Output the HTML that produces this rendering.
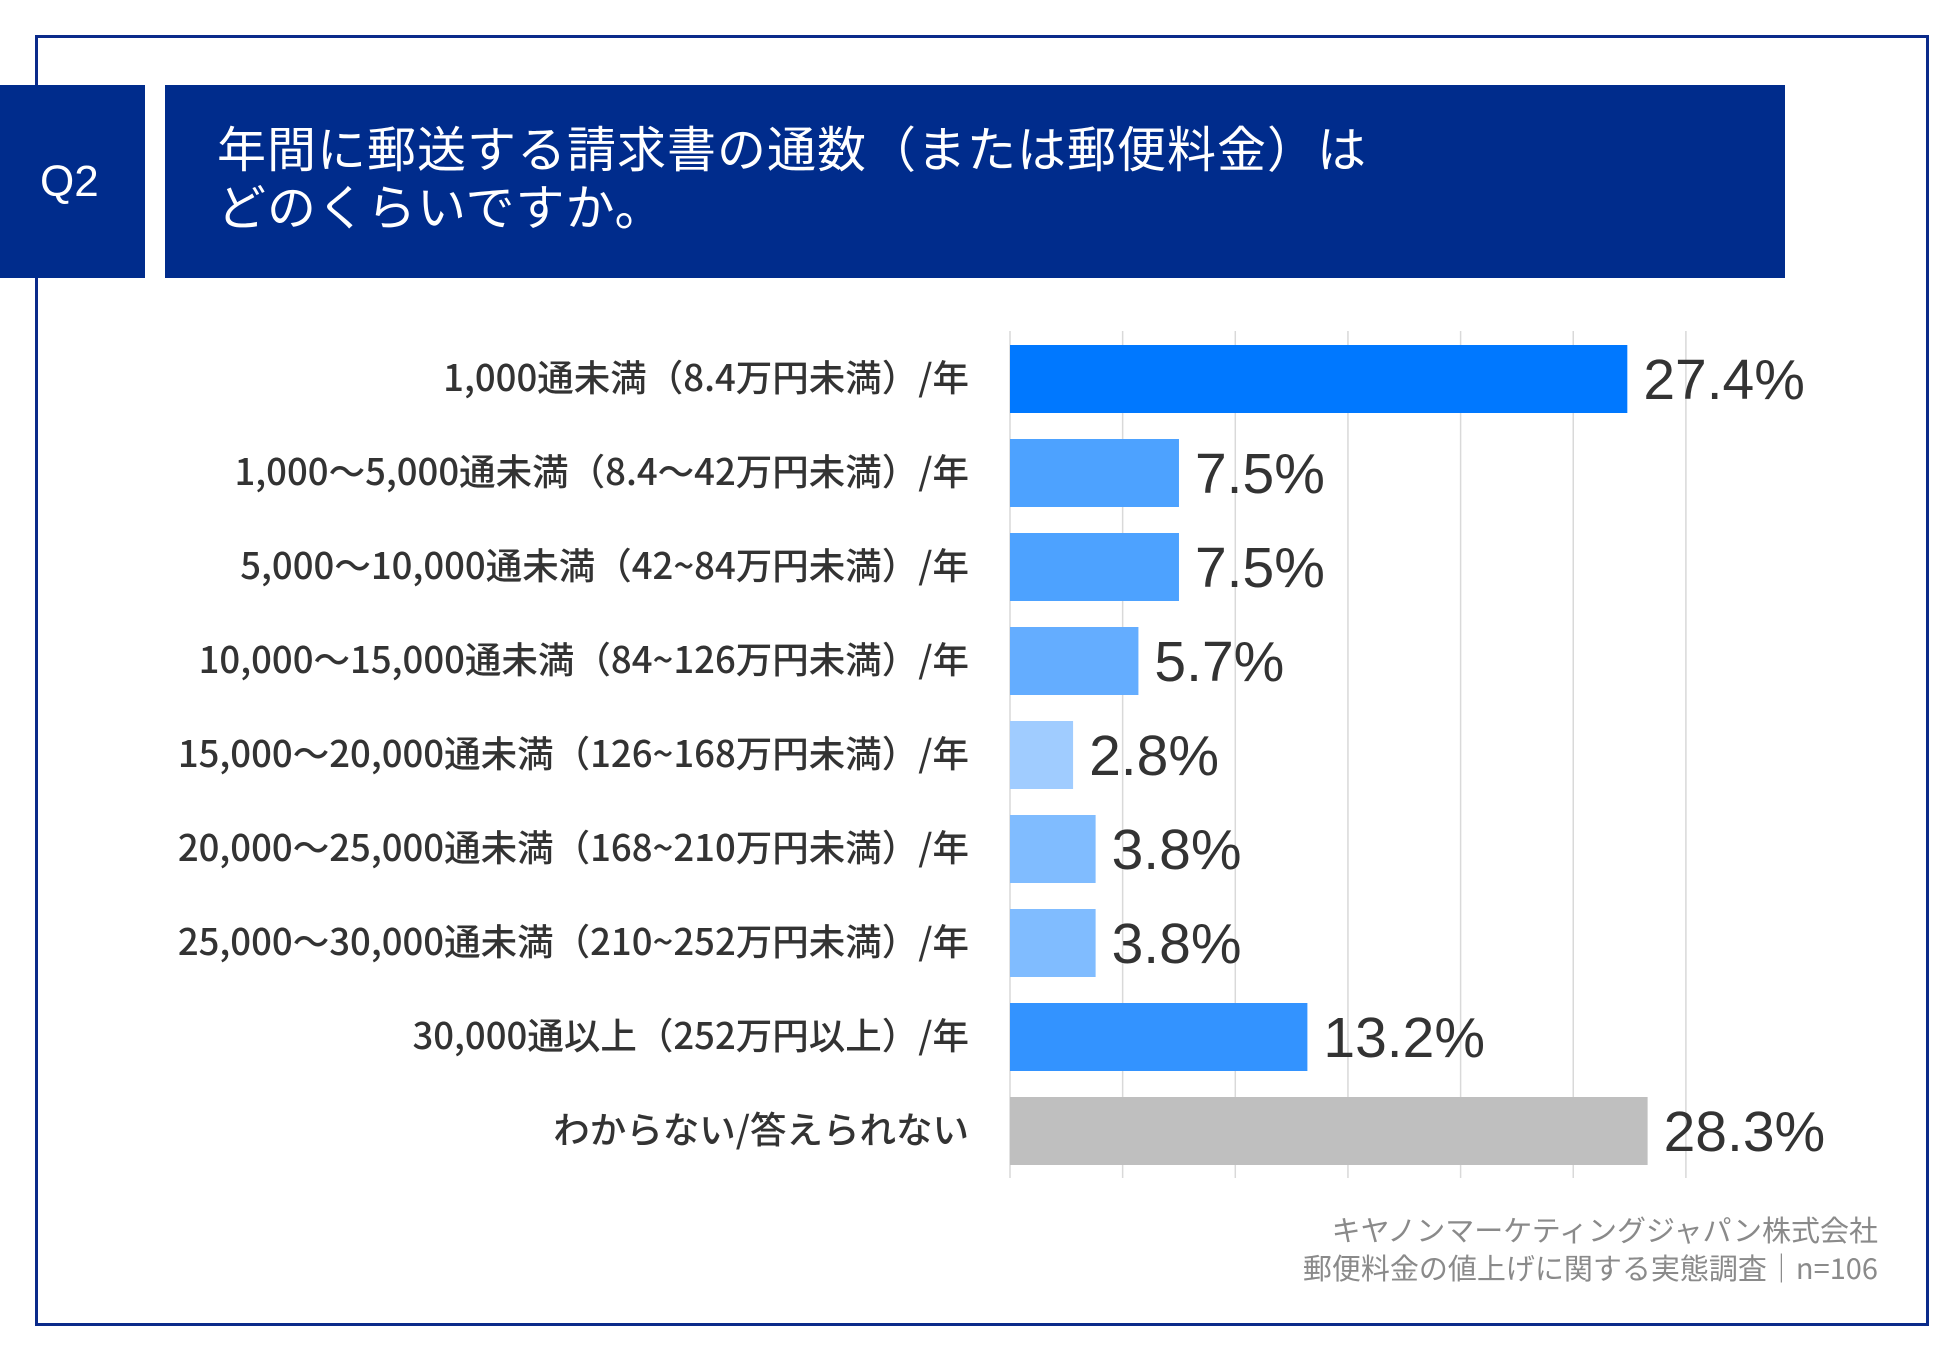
<!DOCTYPE html>
<html><head><meta charset="utf-8">
<style>
body{margin:0;width:1950px;height:1350px;background:#fff;position:relative;overflow:hidden;font-family:"Liberation Sans","Noto Sans CJK JP",sans-serif;}
.frame{position:absolute;left:35px;top:35px;width:1888px;height:1285px;border:3px solid #0a2a8a;}
.q{position:absolute;left:0;top:85px;width:145px;height:193px;background:#002c8c;color:#fff;font-size:44px;line-height:193px;text-align:left;padding-left:40px;box-sizing:border-box;}
.title{position:absolute;left:165px;top:85px;width:1620px;height:193px;background:#002c8c;color:#fff;font-family:"Noto Sans CJK JP",sans-serif;font-size:49px;line-height:58px;padding:33px 0 0 52px;box-sizing:border-box;letter-spacing:1px;}
.foot{position:absolute;right:72px;top:1210px;text-align:right;color:#8a8a8a;font-family:"Noto Sans CJK JP",sans-serif;font-size:29px;line-height:38px;}
</style></head><body>
<div class="frame"></div>
<div class="q">Q2</div>
<div class="title">年間に郵送する請求書の通数（または郵便料金）は<br>どのくらいですか。</div>
<svg id="chart" width="1950" height="1350" style="position:absolute;left:0;top:0"></svg>
<div class="foot">キヤノンマーケティングジャパン株式会社<br>郵便料金の値上げに関する実態調査｜n=106</div>
<script>
const categories=["1,000通未満（8.4万円未満）/年","1,000〜5,000通未満（8.4〜42万円未満）/年","5,000〜10,000通未満（42~84万円未満）/年","10,000〜15,000通未満（84~126万円未満）/年","15,000〜20,000通未満（126~168万円未満）/年","20,000〜25,000通未満（168~210万円未満）/年","25,000〜30,000通未満（210~252万円未満）/年","30,000通以上（252万円以上）/年","わからない/答えられない"];
const values=[27.4,7.5,7.5,5.7,2.8,3.8,3.8,13.2,28.3];
const labels=["27.4%","7.5%","7.5%","5.7%","2.8%","3.8%","3.8%","13.2%","28.3%"];
const colors=["#0078ff","#4da2ff","#4da2ff","#64adff","#a0ccff","#80bcff","#80bcff","#3393ff","#bfbfbf"];
const gridTicks=[0,5,10,15,20,25,30];
const svg=document.getElementById('chart');const NS="http://www.w3.org/2000/svg";
const x0=1010,pxPer=22.53,yTop=345,step=94,bh=68;
const xs=v=>x0+v*pxPer; const ys=i=>yTop+i*step;
function mk(t,a){const e=document.createElementNS(NS,t);for(const k in a)e.setAttribute(k,a[k]);svg.appendChild(e);return e;}
gridTicks.forEach(t=>{const l=mk('line',{x1:xs(t),x2:xs(t),y1:331,y2:1178,stroke:'#d9d9d9','stroke-width':1.5});

});
values.forEach((v,i)=>{
const r=mk('rect',{x:x0,y:ys(i),width:xs(v)-x0,height:bh,fill:colors[i]});


const t=mk('text',{x:xs(v)+16,y:ys(i)+bh/2+20,'font-size':57,fill:'#333','font-family':'Liberation Sans, sans-serif'});
t.textContent=labels[i];


const c=mk('text',{x:969,y:ys(i)+bh/2+12,'font-size':36.5,'font-weight':500,fill:'#333','text-anchor':'end','font-family':'Noto Sans CJK JP, sans-serif'});
c.textContent=categories[i];


});
</script>
</body></html>
